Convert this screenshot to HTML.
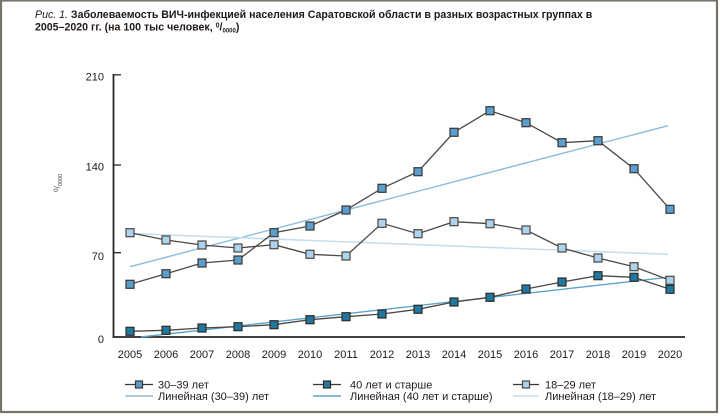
<!DOCTYPE html>
<html>
<head>
<meta charset="utf-8">
<style>
  html,body{margin:0;padding:0;background:#fff;}
  body{width:720px;height:416px;overflow:hidden;}
  svg{display:block;font-family:"Liberation Sans","Noto Sans CJK SC",sans-serif;}
</style>
</head>
<body>
<svg width="720" height="416" viewBox="0 0 720 416" xmlns="http://www.w3.org/2000/svg">
  <rect x="0" y="0" width="720" height="416" fill="#fff"/>
  <!-- frame -->
  <rect x="1" y="0.5" width="716" height="411.5" fill="none" stroke="#77726a" stroke-width="2.2"/>

  <!-- title -->
  <text x="35" y="18" font-size="10.6" font-weight="bold" fill="#1f1a17"><tspan font-style="italic" font-weight="normal">Рис. 1.</tspan> Заболеваемость ВИЧ-инфекцией населения Саратовской области в разных возрастных группах в</text>
  <text x="35" y="30.5" font-size="10.6" font-weight="bold" fill="#1f1a17">2005–2020 гг. (на 100 тыс человек, <tspan font-size="7" dy="-3">0</tspan><tspan dy="3">/</tspan><tspan font-size="6" dy="2">0000</tspan><tspan dy="-2">)</tspan></text>

  <!-- y axis label -->
  <text transform="translate(60,192) rotate(-90)" font-size="8" fill="#4a4540"><tspan font-size="6.5" dy="-2">0</tspan><tspan dy="2">/</tspan><tspan font-size="5.5" dy="2">0000</tspan></text>

  <!-- axes -->
  <line x1="113.5" y1="74" x2="113.5" y2="337.5" stroke="#2a2520" stroke-width="1.8"/>
  <line x1="112.6" y1="337" x2="685" y2="337" stroke="#2a2520" stroke-width="1.8"/>
  <g stroke="#2a2520" stroke-width="1.3">
    <line x1="113" y1="74.8" x2="121" y2="74.8"/>
    <line x1="113" y1="165" x2="121" y2="165"/>
    <line x1="113" y1="252.7" x2="121" y2="252.7"/>
  </g>
  <g font-size="11" fill="#1f1a17" text-anchor="end">
    <text x="104" y="80.5">210</text>
    <text x="104" y="170.5">140</text>
    <text x="104" y="260">70</text>
    <text x="104" y="343">0</text>
  </g>
  <g font-size="11" fill="#1f1a17" text-anchor="middle">
    <text x="130" y="358">2005</text>
    <text x="166" y="358">2006</text>
    <text x="202" y="358">2007</text>
    <text x="238" y="358">2008</text>
    <text x="274" y="358">2009</text>
    <text x="310" y="358">2010</text>
    <text x="346" y="358">2011</text>
    <text x="382" y="358">2012</text>
    <text x="418" y="358">2013</text>
    <text x="454" y="358">2014</text>
    <text x="490" y="358">2015</text>
    <text x="526" y="358">2016</text>
    <text x="562" y="358">2017</text>
    <text x="598" y="358">2018</text>
    <text x="634" y="358">2019</text>
    <text x="670" y="358">2020</text>
  </g>

  <!-- trend lines -->
  <line x1="130" y1="266.7" x2="668" y2="125.7" stroke="#8cbcdc" stroke-width="1.4"/>
  <line x1="130" y1="233.5" x2="668" y2="254.3" stroke="#c4deef" stroke-width="1.6"/>
  <line x1="141" y1="337" x2="668" y2="277.3" stroke="#5ea3ca" stroke-width="1.4"/>

  <!-- series lines -->
  <g fill="none" stroke="#4d4842" stroke-width="1.3">
    <polyline points="130,284.3 166,273.7 202,263 238,260 274,232.7 310,226 346,210 382,188.3 418,171.7 454,132.3 490,110.7 526,122.7 562,142.7 598,140.7 634,168.7 670,209.3"/>
    <polyline points="130,232.7 166,240 202,245 238,248 274,244.7 310,254.3 346,256 382,223.3 418,233.7 454,221.7 490,223.7 526,230 562,248 598,258 634,266.7 670,280.3"/>
    <polyline points="130,331.3 166,330.3 202,328 238,326.7 274,324.7 310,319.7 346,316.7 382,314 418,309.3 454,302 490,297.3 526,289 562,282 598,275.7 634,277.3 670,289.3"/>
  </g>

  <!-- markers 30-39 -->
  <g fill="#5a9ecf" stroke="#3a3632" stroke-width="1.2">
    <rect x="126" y="280.3" width="8" height="8"/>
    <rect x="162" y="269.7" width="8" height="8"/>
    <rect x="198" y="259" width="8" height="8"/>
    <rect x="234" y="256" width="8" height="8"/>
    <rect x="270" y="228.7" width="8" height="8"/>
    <rect x="306" y="222" width="8" height="8"/>
    <rect x="342" y="206" width="8" height="8"/>
    <rect x="378" y="184.3" width="8" height="8"/>
    <rect x="414" y="167.7" width="8" height="8"/>
    <rect x="450" y="128.3" width="8" height="8"/>
    <rect x="486" y="106.7" width="8" height="8"/>
    <rect x="522" y="118.7" width="8" height="8"/>
    <rect x="558" y="138.7" width="8" height="8"/>
    <rect x="594" y="136.7" width="8" height="8"/>
    <rect x="630" y="164.7" width="8" height="8"/>
    <rect x="666" y="205.3" width="8" height="8"/>
  </g>
  <!-- markers 18-29 -->
  <g fill="#acd2ee" stroke="#4a4641" stroke-width="1.2">
    <rect x="126" y="228.7" width="8" height="8"/>
    <rect x="162" y="236" width="8" height="8"/>
    <rect x="198" y="241" width="8" height="8"/>
    <rect x="234" y="244" width="8" height="8"/>
    <rect x="270" y="240.7" width="8" height="8"/>
    <rect x="306" y="250.3" width="8" height="8"/>
    <rect x="342" y="252" width="8" height="8"/>
    <rect x="378" y="219.3" width="8" height="8"/>
    <rect x="414" y="229.7" width="8" height="8"/>
    <rect x="450" y="217.7" width="8" height="8"/>
    <rect x="486" y="219.7" width="8" height="8"/>
    <rect x="522" y="226" width="8" height="8"/>
    <rect x="558" y="244" width="8" height="8"/>
    <rect x="594" y="254" width="8" height="8"/>
    <rect x="630" y="262.7" width="8" height="8"/>
    <rect x="666" y="276.3" width="8" height="8"/>
  </g>
  <!-- markers 40+ -->
  <g fill="#21779f" stroke="#2f2b27" stroke-width="1.2">
    <rect x="126" y="327.3" width="8" height="8"/>
    <rect x="162" y="326.3" width="8" height="8"/>
    <rect x="198" y="324" width="8" height="8"/>
    <rect x="234" y="322.7" width="8" height="8"/>
    <rect x="270" y="320.7" width="8" height="8"/>
    <rect x="306" y="315.7" width="8" height="8"/>
    <rect x="342" y="312.7" width="8" height="8"/>
    <rect x="378" y="310" width="8" height="8"/>
    <rect x="414" y="305.3" width="8" height="8"/>
    <rect x="450" y="298" width="8" height="8"/>
    <rect x="486" y="293.3" width="8" height="8"/>
    <rect x="522" y="285" width="8" height="8"/>
    <rect x="558" y="278" width="8" height="8"/>
    <rect x="594" y="271.7" width="8" height="8"/>
    <rect x="630" y="273.3" width="8" height="8"/>
    <rect x="666" y="285.3" width="8" height="8"/>
  </g>

  <!-- legend -->
  <g stroke-width="1.2">
    <line x1="125" y1="384.5" x2="153" y2="384.5" stroke="#3a3632"/>
    <rect x="135.5" y="381" width="7" height="7" fill="#5a9ecf" stroke="#3a3632"/>
    <line x1="313" y1="384.5" x2="341" y2="384.5" stroke="#3a3632"/>
    <rect x="323.5" y="381" width="7" height="7" fill="#21779f" stroke="#2f2b27"/>
    <line x1="513" y1="384.5" x2="539" y2="384.5" stroke="#3a3632"/>
    <rect x="522.5" y="381" width="7" height="7" fill="#acd2ee" stroke="#4a4641"/>
    <line x1="125" y1="396" x2="153" y2="396" stroke="#8cbcdc" stroke-width="1.4"/>
    <line x1="313" y1="396" x2="341" y2="396" stroke="#5ea3ca" stroke-width="1.4"/>
    <line x1="513" y1="396" x2="539" y2="396" stroke="#c4deef" stroke-width="1.6"/>
  </g>
  <g font-size="11" fill="#1f1a17">
    <text x="158" y="388.5">30–39 лет</text>
    <text x="158" y="400">Линейная (30–39) лет</text>
    <text x="350" y="388.5">40 лет и старше</text>
    <text x="350" y="400">Линейная (40 лет и старше)</text>
    <text x="545" y="388.5">18–29 лет</text>
    <text x="545" y="400">Линейная (18–29) лет</text>
  </g>
</svg>
</body>
</html>
